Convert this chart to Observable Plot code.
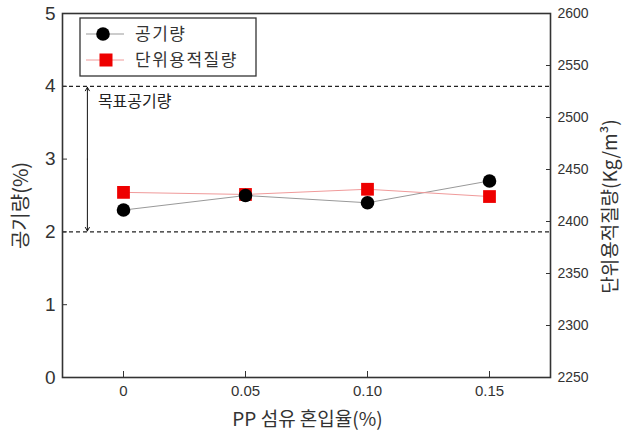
<!DOCTYPE html>
<html><head><meta charset="utf-8">
<script src="https://cdn.jsdelivr.net/npm/d3@7"></script>
<script src="https://cdn.jsdelivr.net/npm/@observablehq/plot@0.6"></script>
<style>body{margin:0;background:#fff}</style>
</head><body><div id="chart"></div>
<script>
const fiber = [0, 0.05, 0.10, 0.15];
const fiberLabels = ["0", "0.05", "0.10", "0.15"];
const airContent = [2.3, 2.5, 2.4, 2.7];
const unitWeight = [2428, 2426, 2431, 2424];
const leftTicks = [0, 1, 2, 3, 4, 5];
const rightTicks = [2250, 2300, 2350, 2400, 2450, 2500, 2550, 2600];
const targetRange = [2, 4];
const seriesNames = ["공기량", "단위용적질량"];

const wMin = 2250, wMax = 2600, yMax = 5;
const wToY = w => (w - wMin) / (wMax - wMin) * yMax;
const air = fiber.map((f, i) => ({f, v: airContent[i]}));
const wt = fiber.map((f, i) => ({f, v: wToY(unitWeight[i])}));

const ink = "#333";
const fontNum = "'Liberation Sans', Arial, sans-serif";
const fontKr = "'Noto Sans CJK KR', sans-serif";

const chart = Plot.plot({
  width: 627, height: 441,
  marginLeft: 62, marginRight: 77, marginTop: 13, marginBottom: 64,
  style: {fontFamily: fontNum, color: ink, background: "#fff"},
  x: {domain: [-0.025, 0.175]},
  y: {domain: [0, 5]},
  marks: [
    Plot.ruleY(targetRange, {stroke: "#222", strokeWidth: 1.2, strokeDasharray: "4,3"}),
    Plot.arrow([{y1: 3, y2: 4}, {y1: 3, y2: 2}], {x1: -0.0148, x2: -0.0148, y1: "y1", y2: "y2", stroke: "#111", strokeWidth: 1, headLength: 6, insetEnd: 1}),
    Plot.text(["목표공기량"], {x: -0.0105, y: 3.79, text: d => d, textAnchor: "start", fontSize: 16, letterSpacing: 0.5, fontFamily: fontKr, fill: "#222"}),
    Plot.line(air, {x: "f", y: "v", stroke: "#999", strokeWidth: 1}),
    Plot.line(wt, {x: "f", y: "v", stroke: "#f09a9a", strokeWidth: 1}),
    Plot.dot(wt, {x: "f", y: "v", symbol: "square", r: 7.2, fill: "#ee0000", stroke: "none"}),
    Plot.dot(air, {x: "f", y: "v", r: 6.8, fill: "#000", stroke: "none"}),
    Plot.axisY({anchor: "left", ticks: leftTicks, tickFormat: d => String(d), tickSize: -5, tickPadding: 12, fontSize: 19, label: null, stroke: ink}),
    Plot.axisY({anchor: "right", ticks: rightTicks.map(wToY), tickFormat: (d, i) => String(rightTicks[i]), tickSize: -5, tickPadding: 12, fontSize: 14, letterSpacing: -1, label: null, stroke: ink}),
    Plot.axisX({ticks: fiber, tickFormat: (d, i) => fiberLabels[i], tickSize: -6, tickPadding: 14, fontSize: 15, label: null, stroke: ink}),
    Plot.frame({stroke: ink, strokeWidth: 1.6}),
    Plot.text(["공기량(%)"], {frameAnchor: "left", dx: -41, dy: 10, rotate: -90, textAnchor: "middle", text: d => d, fontSize: 20, fontFamily: fontKr, fill: ink}),
    Plot.text(["단위용적질량(Kg/m³)"], {frameAnchor: "right", dx: 60, dy: 11, rotate: -90, textAnchor: "middle", text: d => d, fontSize: 19, fontFamily: fontKr, fill: ink}),
    Plot.text(["PP 섬유 혼입율(%)"], {frameAnchor: "bottom", dx: 1, dy: 48, text: d => d, fontSize: 19, letterSpacing: 0.8, fontFamily: fontKr, fill: ink})
  ]
});
document.getElementById("chart").appendChild(chart);

// legend
const svg = d3.select(chart);
const lg = svg.append("g").attr("font-family", fontKr).attr("font-size", 17).attr("letter-spacing", 1.5).attr("fill", ink).attr("text-anchor", "start");
lg.append("rect").attr("x", 80).attr("y", 18).attr("width", 176).attr("height", 58).attr("fill", "#fff").attr("stroke", ink).attr("stroke-width", 1.3);
const rows = [{y: 34, color: "#999"}, {y: 60, color: "#f09a9a"}];
rows.forEach((r, i) => {
  lg.append("line").attr("x1", 86).attr("x2", 124).attr("y1", r.y).attr("y2", r.y).attr("stroke", r.color);
  if (i === 0) lg.append("circle").attr("cx", 103).attr("cy", r.y).attr("r", 6.8).attr("fill", "#000");
  else lg.append("rect").attr("x", 99.5).attr("y", r.y - 6.5).attr("width", 13).attr("height", 13).attr("fill", "#ee0000");
  lg.append("text").attr("x", 135).attr("y", r.y).attr("dy", "0.35em").text(seriesNames[i]);
});
</script></body></html>
